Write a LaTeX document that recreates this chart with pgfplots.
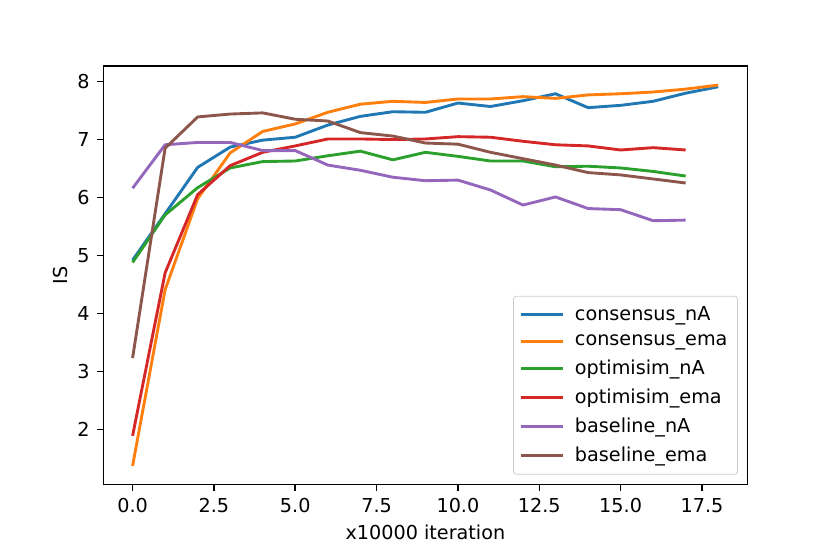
\documentclass[border=0pt]{standalone}
\usepackage{pgfplots}
\pgfplotsset{compat=1.18}
\usepackage{fontspec}
\setmainfont{DejaVu Sans}
\definecolor{c0}{HTML}{1F77B4}
\definecolor{c1}{HTML}{FF7F0E}
\definecolor{c2}{HTML}{2CA02C}
\definecolor{c3}{HTML}{D62728}
\definecolor{c4}{HTML}{9467BD}
\definecolor{c5}{HTML}{8C564B}
\begin{document}
\begin{tikzpicture}[x=0.5pt,y=0.5pt]
\path[use as bounding box] (0,0) rectangle (830,554);
\begin{axis}[
  at={(51.65pt,34.85pt)}, anchor=south west,
  scale only axis, width=322.1pt, height=209.1pt,
  xmin=-0.9, xmax=18.9, ymin=1.053, ymax=8.267,
  xtick={0,2.5,5,7.5,10,12.5,15,17.5},
  ytick={2,3,4,5,6,7,8},
  xticklabel style={/pgf/number format/.cd,fixed,fixed zerofill,precision=1},
  /pgf/number format/assume math mode=true,
  ticklabel style={font=\fontsize{9.6}{11.5}\selectfont},
  label style={font=\fontsize{9.6}{11.5}\selectfont},
  tick align=outside, tick pos=lower,
  major tick length=3.36pt,
  every tick/.style={black, line width=0.77pt},
  axis line style={line width=0.77pt},
  xlabel={x10000 iteration}, ylabel={IS},
  xlabel style={yshift=0.5pt},
  ylabel style={yshift=-2pt},
  every axis plot/.append style={line width=1.44pt, line join=round},
  legend style={at={(1,0)}, anchor=south east, xshift=-4.8pt, yshift=4.8pt,
    draw=black!20, rounded corners=1.5pt, fill=white, fill opacity=0.8, text opacity=1,
    font=\fontsize{9.6}{11.5}\selectfont, row sep=1.7pt, inner xsep=3pt, inner ysep=3pt},
  legend cell align=left,
  legend image code/.code={\draw[#1] (0pt,0pt) -- (20.8pt,0pt); \path (24.3pt,0pt);},
]
\addplot[c0] coordinates {(0,4.92)(1,5.72)(2,6.52)(3,6.87)(4,6.99)(5,7.04)(6,7.25)(7,7.40)(8,7.48)(9,7.47)(10,7.63)(11,7.57)(12,7.67)(13,7.79)(14,7.55)(15,7.59)(16,7.66)(17,7.80)(18,7.91)};
\addlegendentry{consensus\_nA}
\addplot[c1] coordinates {(0,1.37)(1,4.41)(2,5.98)(3,6.77)(4,7.14)(5,7.27)(6,7.47)(7,7.61)(8,7.66)(9,7.64)(10,7.70)(11,7.70)(12,7.74)(13,7.71)(14,7.77)(15,7.79)(16,7.82)(17,7.87)(18,7.94)};
\addlegendentry{consensus\_ema}
\addplot[c2] coordinates {(0,4.88)(1,5.70)(2,6.17)(3,6.51)(4,6.62)(5,6.63)(6,6.72)(7,6.80)(8,6.65)(9,6.78)(10,6.71)(11,6.63)(12,6.63)(13,6.53)(14,6.54)(15,6.51)(16,6.45)(17,6.37)};
\addlegendentry{optimisim\_nA}
\addplot[c3] coordinates {(0,1.89)(1,4.70)(2,6.05)(3,6.55)(4,6.78)(5,6.89)(6,7.01)(7,7.01)(8,7.00)(9,7.01)(10,7.05)(11,7.04)(12,6.97)(13,6.91)(14,6.89)(15,6.82)(16,6.86)(17,6.82)};
\addlegendentry{optimisim\_ema}
\addplot[c4] coordinates {(0,6.16)(1,6.91)(2,6.95)(3,6.95)(4,6.81)(5,6.81)(6,6.56)(7,6.47)(8,6.35)(9,6.29)(10,6.30)(11,6.13)(12,5.87)(13,6.01)(14,5.81)(15,5.79)(16,5.60)(17,5.61)};
\addlegendentry{baseline\_nA}
\addplot[c5] coordinates {(0,3.23)(1,6.85)(2,7.39)(3,7.44)(4,7.46)(5,7.35)(6,7.32)(7,7.12)(8,7.06)(9,6.94)(10,6.92)(11,6.78)(12,6.67)(13,6.56)(14,6.43)(15,6.39)(16,6.32)(17,6.25)};
\addlegendentry{baseline\_ema}
\end{axis}
\end{tikzpicture}
\end{document}
